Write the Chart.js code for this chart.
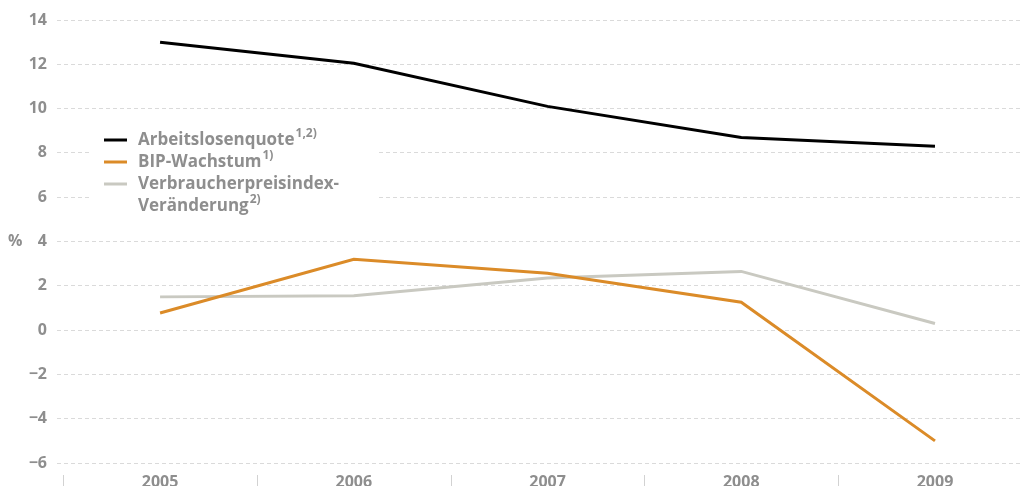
<!DOCTYPE html>
<html><head><meta charset="utf-8">
<script src="https://cdn.jsdelivr.net/npm/chart.js@4/dist/chart.umd.min.js"></script>
<style>html,body{margin:0;padding:0;background:#fff;overflow:hidden}#wrap{width:1021px;height:486px;position:relative}</style>
</head><body><div id="wrap"><canvas id="c"></canvas></div>
<script>
const years = [2005, 2006, 2007, 2008, 2009];
const arbeitslosenquote = [13.0, 12.05, 10.1, 8.7, 8.3];
const bipWachstum = [0.77, 3.2, 2.57, 1.26, -5.0];
const verbraucherpreisindex = [1.5, 1.55, 2.35, 2.65, 0.3];
const yTickValues = [-6, -4, -2, 0, 2, 4, 6, 8, 10, 12, 14];
const unitLabel = '%';
const legendItems = [
  { lines: ['Arbeitslosenquote'], sup: '1,2)', color: '#000000' },
  { lines: ['BIP-Wachstum'], sup: '1)', color: '#db8b28' },
  { lines: ['Verbraucherpreisindex-', 'Veränderung'], sup: '2)', color: '#c9c9c1' }
];

const GRAY = '#8e8e8e';
const FONT = '"Open Sans", sans-serif';

function pts(vals){ return years.map((y,i)=>({x:y, y:vals[i]})); }

const decor = {
  id: 'decor',
  beforeDatasetsDraw(chart){
    const ctx = chart.ctx;
    ctx.save();
    ctx.fillStyle = '#ffffff';
    ctx.fillRect(90, 124, 287, 92);
    let y = 140;
    legendItems.forEach(item => {
      ctx.strokeStyle = item.color;
      ctx.lineWidth = 3;
      ctx.beginPath(); ctx.moveTo(104, y); ctx.lineTo(127, y); ctx.stroke();
      item.lines.forEach((ln, k) => {
        ctx.font = 'bold 17px ' + FONT;
        ctx.fillStyle = GRAY;
        ctx.textBaseline = 'middle';
        ctx.textAlign = 'left';
        ctx.fillText(ln, 138, y);
        if (k === item.lines.length - 1) {
          const w = ctx.measureText(ln).width;
          ctx.font = 'bold 12px ' + FONT;
          ctx.fillText(item.sup, 138 + w + 1, y - 6);
        }
        y += 22;
      });
    });
    ctx.restore();
  },
  afterDraw(chart){
    const ctx = chart.ctx;
    const xs = chart.scales.x, ys = chart.scales.y;
    ctx.save();
    ctx.strokeStyle = '#d2d2d2';
    ctx.lineWidth = 1;
    const t = xs.ticks;
    for (let i = 0; i < t.length; i++) {
      const p = xs.getPixelForValue(t[i].value);
      const step = (i > 0 ? p - xs.getPixelForValue(t[i-1].value) : xs.getPixelForValue(t[1].value) - p);
      const sx = Math.round(p - step / 2) + 0.5;
      ctx.beginPath(); ctx.moveTo(sx, 475); ctx.lineTo(sx, 486); ctx.stroke();
    }
    ctx.font = 'bold 16px ' + FONT;
    ctx.fillStyle = GRAY;
    ctx.textBaseline = 'middle';
    ctx.textAlign = 'left';
    ctx.fillText(unitLabel, 8, ys.getPixelForValue(4));
    ctx.restore();
  }
};

new Chart(document.getElementById('c'), {
  type: 'line',
  data: {
    datasets: [
      { label: 'Arbeitslosenquote', data: pts(arbeitslosenquote), borderColor: '#000000', borderWidth: 3, pointRadius: 0, tension: 0 },
      { label: 'BIP-Wachstum', data: pts(bipWachstum), borderColor: '#db8b28', borderWidth: 3, pointRadius: 0, tension: 0 },
      { label: 'Verbraucherpreisindex-Veränderung', data: pts(verbraucherpreisindex), borderColor: '#c9c9c1', borderWidth: 3, pointRadius: 0, tension: 0 }
    ]
  },
  options: {
    responsive: true,
    maintainAspectRatio: false,
    animation: false,
    layout: { padding: { top: 20, left: 0, right: 0, bottom: 0 } },
    plugins: { legend: { display: false }, tooltip: { enabled: false } },
    scales: {
      x: {
        type: 'linear',
        min: 2004.468, max: 2009.444,
        afterBuildTicks: (s) => { s.ticks = years.map(v => ({ value: v })); },
        afterFit: (s) => { s.height = 23; },
        grid: { display: false, drawTicks: false },
        border: { display: false },
        ticks: {
          padding: 10,
          color: GRAY,
          font: { family: FONT, size: 16, weight: 'bold' },
          callback: (v) => String(v),
          maxRotation: 0
        }
      },
      y: {
        min: -6, max: 14,
        afterBuildTicks: (s) => { s.ticks = yTickValues.map(v => ({ value: v })); },
        afterFit: (s) => { s.width = 57; },
        grid: { color: '#dadada', lineWidth: 1, drawTicks: false },
        border: { display: false, dash: [4, 3] },
        ticks: {
          padding: 10,
          color: GRAY,
          font: { family: FONT, size: 16, weight: 'bold' },
          callback: (v) => (v < 0 ? '\u2212' + Math.abs(v) : String(v))
        }
      }
    }
  },
  plugins: [decor]
});
</script></body></html>
